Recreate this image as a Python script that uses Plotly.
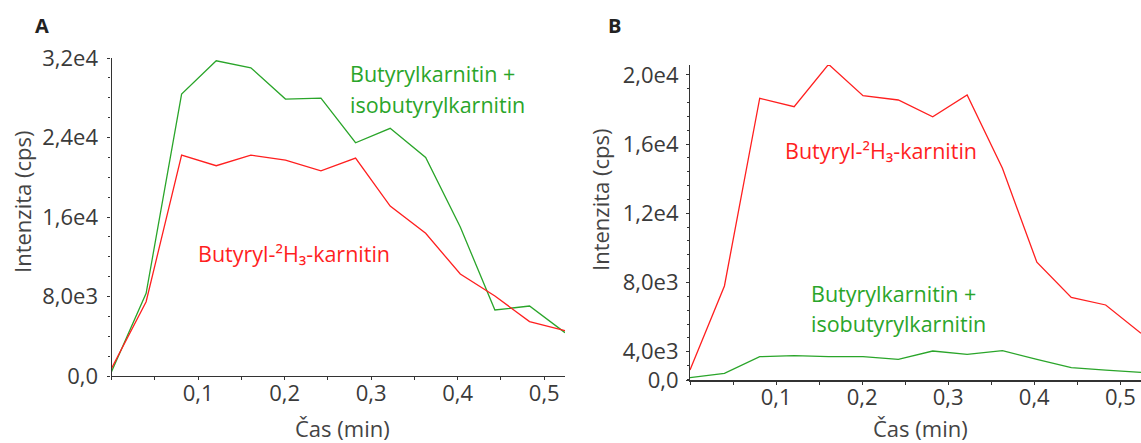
import plotly.graph_objects as go

W, H = 1141, 443

# ---- data ----
time_min = [0, 0.040, 0.081, 0.121, 0.161, 0.201, 0.242, 0.282, 0.322, 0.363, 0.403, 0.443, 0.483, 0.524]

a_butyryl_iso = [430, 8320, 28370, 31720, 31010, 27870, 27970, 23470, 24920, 22000, 14990, 6640, 7040, 4360]
a_butyryl_d3 = [770, 7470, 22230, 21160, 22230, 21730, 20650, 21930, 17100, 14360, 10260, 8050, 5470, 4560]

b_butyryl_d3 = [2940, 7800, 18650, 18160, 20610, 18800, 18550, 17580, 18840, 14600, 9170, 7140, 6700, 5060]
b_butyryl_iso = [2500, 2750, 3710, 3770, 3710, 3710, 3560, 4040, 3850, 4060, 3560, 3080, 2940, 2810]

x_tickvals = [0.1, 0.2, 0.3, 0.4, 0.5]
x_ticktext = ["0,1", "0,2", "0,3", "0,4", "0,5"]
a_y_tickvals = [0, 8000, 16000, 24000, 32000]
a_y_ticktext = ["0,0", "8,0e3", "1,6e4", "2,4e4", "3,2e4"]
b_y_tickvals = [2364, 4000, 8000, 12000, 16000, 20000]
b_y_ticktext = ["0,0", "4,0e3", "8,0e3", "1,2e4", "1,6e4", "2,0e4"]

RED = "#ff1f1f"
GREEN = "#2aa52a"
FONT = "Open Sans"
AX = "#333333"
TXT = "#3a3a3a"

def px(x):
    return x / W

def py(y):
    return 1 - y / H

fig = go.Figure()
fig.add_trace(go.Scatter(x=time_min, y=a_butyryl_iso, mode="lines", line=dict(color=GREEN, width=1.3),
                         xaxis="x", yaxis="y", showlegend=False))
fig.add_trace(go.Scatter(x=time_min, y=a_butyryl_d3, mode="lines", line=dict(color=RED, width=1.3),
                         xaxis="x", yaxis="y", showlegend=False))
fig.add_trace(go.Scatter(x=time_min, y=b_butyryl_d3, mode="lines", line=dict(color=RED, width=1.3),
                         xaxis="x2", yaxis="y2", showlegend=False))
fig.add_trace(go.Scatter(x=time_min, y=b_butyryl_iso, mode="lines", line=dict(color=GREEN, width=1.3),
                         xaxis="x2", yaxis="y2", showlegend=False))

tickfont = dict(family=FONT, size=22, color=TXT)

def xax(domain, anchor, lw):
    return dict(domain=domain, anchor=anchor, range=[0, 0.524], showgrid=False, zeroline=False,
                automargin=False,
                showline=True, linecolor=AX, linewidth=lw, ticks="outside", ticklen=3, tickcolor=AX,
                ticklabelstandoff=-6,
                tickmode="array", tickvals=x_tickvals, ticktext=x_ticktext, tickfont=tickfont,
                minor=dict(dtick=0.05, tick0=0, ticks="outside", ticklen=3, tickcolor=AX))

def yax(domain, anchor, rng, tv, tt, mdt, so):
    return dict(domain=domain, anchor=anchor, range=rng, showgrid=False, zeroline=False,
                automargin=False,
                showline=True, linecolor=AX, linewidth=1.2, ticks="outside", ticklen=3, tickcolor=AX,
                ticklabelstandoff=so,
                tickmode="array", tickvals=tv, ticktext=tt, tickfont=tickfont,
                minor=dict(dtick=mdt, tick0=0, ticks="outside", ticklen=2, tickcolor=AX))

fig.update_layout(
    template="none",
    width=W, height=H, margin=dict(l=0, r=0, t=0, b=0, autoexpand=False),
    paper_bgcolor="white", plot_bgcolor="white",
    xaxis=xax([px(111.5), px(565)], "y", 1.2),
    yaxis=yax([py(376), py(58)], "x", [0, 32000], a_y_tickvals, a_y_ticktext, 2000, 5),
    xaxis2=xax([px(690), 1.0], "y2", 2),
    yaxis2=yax([py(380), py(65)], "x2", [2364, 20572], b_y_tickvals, b_y_ticktext, 800, 3),
)

ann = []
def text(x, y, s, color=TXT, size=21.5, xanchor="left", bold=False, angle=0):
    ann.append(dict(x=px(x), y=py(y), xref="paper", yref="paper", text=("<b>%s</b>" % s) if bold else s,
                    showarrow=False, xanchor=xanchor, yanchor="middle", textangle=angle,
                    font=dict(family=FONT, size=size, color=color)))

text(42, 25, "A", color="#222222", size=20, xanchor="center", bold=True)
text(615, 25, "B", color="#222222", size=20, xanchor="center", bold=True)
text(348, 74, "Butyrylkarnitin +", color=GREEN)
text(348, 104, "isobutyrylkarnitin", color=GREEN)
text(196, 253, "Butyryl-²H₃-karnitin", color=RED)
text(783, 150, "Butyryl-²H₃-karnitin", color=RED)
text(809, 293, "Butyrylkarnitin +", color=GREEN)
text(809, 323, "isobutyrylkarnitin", color=GREEN)
text(22, 202, "Intenzita (cps)", size=22, xanchor="center", angle=-90, color="#444444")
text(600, 200, "Intenzita (cps)", size=22, xanchor="center", angle=-90, color="#444444")
text(342, 428, "Čas (min)", size=22, xanchor="center", color="#444444")
text(920, 428, "Čas (min)", size=22, xanchor="center", color="#444444")
fig.update_layout(annotations=ann)

fig.write_html("out.html")
